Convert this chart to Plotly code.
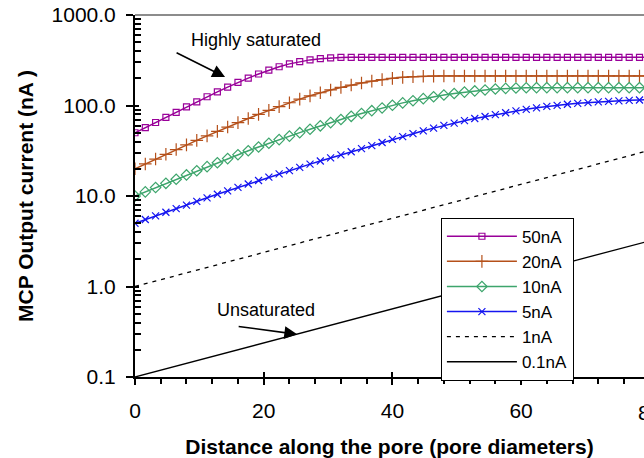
import plotly.graph_objects as go

# Distance along the pore (pore diameters) for each computed point
distance = [0, 1.6, 3.2, 4.8, 6.4, 8, 9.6, 11.2, 12.8, 14.4,
            16, 17.6, 19.2, 20.8, 22.4, 24, 25.6, 27.2, 28.8, 30.4,
            32, 33.6, 35.2, 36.8, 38.4, 40, 41.6, 43.2, 44.8, 46.4,
            48, 49.6, 51.2, 52.8, 54.4, 56, 57.6, 59.2, 60.8, 62.4,
            64, 65.6, 67.2, 68.8, 70.4, 72, 73.6, 75.2, 76.8, 78.4, 80]

# MCP output current (nA) for each input current
out_50nA = [50.0, 57.0, 64.9, 73.8, 84.1, 96.6, 109.9, 125.0, 141.6, 159.6,
            179.9, 200.9, 222.8, 245.5, 267.9, 288.4, 304.8, 319.2, 328.9, 335.7,
            339.6, 341, 341, 341, 341, 341, 341, 341, 341, 341,
            341, 341, 341, 341, 341, 341, 341, 341, 341, 341,
            341, 341, 341, 341, 341, 341, 341, 341, 341, 341, 341]
out_20nA = [20.0, 22.6, 25.6, 28.9, 32.6, 36.7, 41.2, 46.2, 51.8, 57.8,
            64.6, 71.8, 79.8, 88.3, 97.3, 107.2, 117.5, 127.9, 138.4, 148.6,
            158.5, 168.3, 177.4, 185.8, 193.2, 199.5, 204.6, 208.0, 210.4, 211.3,
            212, 212, 212, 212, 212, 212, 212, 212, 212, 212,
            212, 212, 212, 212, 212, 212, 212, 212, 212, 212, 212]
out_10nA = [10.0, 11.1, 12.4, 13.8, 15.3, 17.1, 19.0, 21.1, 23.3, 25.9,
            28.6, 31.6, 34.8, 38.3, 42.0, 45.9, 50.1, 54.7, 59.6, 64.7,
            70.1, 75.9, 81.7, 87.7, 94.0, 100.5, 106.9, 113.0, 119.1, 125.0,
            130.6, 135.8, 140.6, 144.9, 148.6, 152.1, 154.5, 156.0, 157.0, 157.4,
            157.4, 157.4, 157.4, 157.4, 157.4, 157.4, 157.4, 157.4, 157.4, 157.4, 157.4]
out_5nA = [5.00, 5.50, 6.03, 6.61, 7.24, 7.94, 8.71, 9.55, 10.45, 11.40,
           12.45, 13.58, 14.83, 16.14, 17.54, 19.05, 20.70, 22.49, 24.38, 26.36,
           28.51, 30.83, 33.34, 36.06, 38.99, 42.17, 45.39, 48.87, 52.48, 56.23,
           60.26, 63.97, 67.92, 71.78, 75.51, 79.43, 83.18, 87.10, 90.78, 94.19,
           97.72, 100.5, 103.3, 105.7, 107.6, 109.6, 111.2, 112.7, 114.0, 115.1, 116.1]

# Unsaturated cases are pure exponentials (straight lines on the log axis)
distance_lin = [0, 80]
out_1nA = [1.0, 32.0]
out_01nA = [0.1, 3.2]

x_ticks = [0, 20, 40, 60]
y_ticks = [0.1, 1, 10, 100, 1000]
y_tick_text = ["0.1", "1.0", "10.0", "100.0", "1000.0"]
y_minor = [m * d for d in (0.1, 1, 10, 100) for m in range(2, 10)]

FONT = "Liberation Sans, Arial, sans-serif"
X_MAX = 79.1

fig = go.Figure()

series = [
    ("50nA", out_50nA, "#990099", "square-open", 6),
    ("20nA", out_20nA, "#B5501A", "cross-thin", 9),
    ("10nA", out_10nA, "#3DA56C", "diamond-open", 8),
    ("5nA", out_5nA, "#1515F0", "x-thin", 7),
]
for name, vals, color, sym, size in series:
    fig.add_trace(go.Scatter(
        x=distance, y=vals, name=name, mode="lines+markers",
        line=dict(color=color, width=1.5),
        marker=dict(symbol=sym, size=size, color=color,
                    line=dict(color=color, width=1.2)),
    ))

fig.add_trace(go.Scatter(x=distance_lin, y=out_1nA, name="1nA", mode="lines",
                         line=dict(color="black", width=1.3, dash="4px,5px")))
fig.add_trace(go.Scatter(x=distance_lin, y=out_01nA, name="0.1nA", mode="lines",
                         line=dict(color="black", width=1.3)))

# helper trace so the overlay axes (inner half of major ticks) get drawn
fig.add_trace(go.Scatter(x=[None], y=[None], xaxis="x2", yaxis="y2",
                         showlegend=False, hoverinfo="skip"))

fig.update_layout(
    width=644, height=458,
    margin=dict(l=135, r=0, t=15, b=81, autoexpand=False),
    plot_bgcolor="white", paper_bgcolor="white",
    font=dict(family=FONT, size=21, color="black"),
    legend=dict(x=0.601, y=0.44, xanchor="left", yanchor="top",
                bordercolor="black", borderwidth=1, bgcolor="white",
                font=dict(size=17), itemwidth=70, tracegroupgap=0),
    xaxis=dict(
        range=[0, X_MAX], showline=True, linecolor="black", linewidth=2,
        ticks="outside", ticklen=6, tickwidth=2, tickcolor="black",
        tickvals=x_ticks, showgrid=False, zeroline=False, ticklabelstandoff=8,
        minor=dict(ticks="outside", ticklen=5, tickwidth=1.5, tickcolor="black",
                   dtick=4, tick0=0, showgrid=False),
        title=dict(text="Distance along the pore (pore diameters)",
                   font=dict(size=21, weight="bold"), standoff=18),
        automargin=False,
    ),
    yaxis=dict(
        type="log", range=[-1, 3], showline=True, linecolor="black", linewidth=2,
        ticks="outside", ticklen=7, tickwidth=2, tickcolor="black",
        tickvals=y_ticks, ticktext=y_tick_text, showgrid=False, zeroline=False,
        ticklabelstandoff=6,
        minor=dict(ticks="inside", ticklen=6, tickwidth=1.5, tickcolor="black",
                   tickvals=y_minor, showgrid=False),
        title=dict(text="MCP Output current (nA )",
                   font=dict(size=21, weight="bold"), standoff=12),
        automargin=False,
    ),
    xaxis2=dict(range=[0, X_MAX], overlaying="x", anchor="y", side="bottom",
                showline=False, ticks="inside", ticklen=5, tickwidth=2,
                tickcolor="black", tickvals=x_ticks, showticklabels=False,
                showgrid=False, zeroline=False),
    yaxis2=dict(type="log", range=[-1, 3], overlaying="y", anchor="x", side="left",
                showline=False, ticks="inside", ticklen=4, tickwidth=2,
                tickcolor="black", tickvals=y_ticks, showticklabels=False,
                showgrid=False, zeroline=False),
    shapes=[dict(type="line", xref="paper", yref="paper", x0=0, x1=1, y0=1, y1=1,
                 line=dict(color="#666666", width=1.5))],
)

# the 80 tick label sits partly beyond the right edge of the view
fig.add_annotation(x=80 / X_MAX, xref="paper", xanchor="center", y=0, yref="paper",
                   yanchor="top", yshift=-22, text="80", showarrow=False,
                   font=dict(size=21))

fig.add_annotation(x=18.8, y=2.725, xref="x", yref="y", text="Highly saturated",
                   showarrow=False, font=dict(size=18))
fig.add_annotation(x=14.0, y=2.315, xref="x", yref="y", text="", showarrow=True,
                   ax=-50, ay=-25, arrowhead=2, arrowsize=1.6, arrowwidth=1.6,
                   arrowcolor="black")
fig.add_annotation(x=20.4, y=-0.262, xref="x", yref="y", text="Unsaturated",
                   showarrow=False, font=dict(size=18))
fig.add_annotation(x=25.2, y=-0.528, xref="x", yref="y", text="", showarrow=True,
                   ax=-60, ay=-8, arrowhead=2, arrowsize=1.6, arrowwidth=1.6,
                   arrowcolor="black")

fig.write_html("out.html")
